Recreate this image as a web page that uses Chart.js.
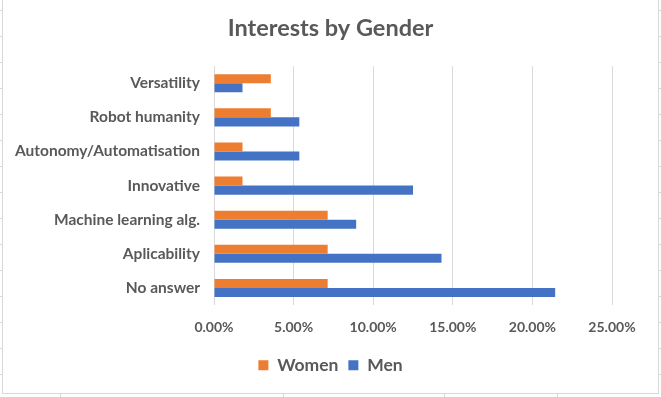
<!DOCTYPE html>
<html>
<head>
<meta charset="utf-8">
<script src="https://cdn.jsdelivr.net/npm/chart.js@4.4.1/dist/chart.umd.min.js"></script>
<style>
  html, body { margin: 0; padding: 0; background: #fff; }
  #wrap { position: relative; width: 661px; height: 397px; }
  #frame { position: absolute; left: 2px; top: -1px; width: 655px; height: 393px; border: 1px solid #d9d9d9; }
  .sheet-left { position: absolute; left: 0; top: 0; width: 2px; height: 397px;
    background: repeating-linear-gradient(to bottom, transparent 0 10px, #d9d9d9 10px 11px, transparent 11px 26px); }
  .sheet-right { position: absolute; left: 658px; top: 0; width: 3px; height: 397px;
    background: repeating-linear-gradient(to bottom, transparent 0 10px, #d9d9d9 10px 11px, transparent 11px 26px); }
  .sheet-col { position: absolute; top: 394px; width: 1px; height: 3px; background: #d9d9d9; }
  canvas { position: absolute; left: 0; top: 0; }
</style>
</head>
<body>
<div id="wrap">
  <div class="sheet-left"></div>
  <div class="sheet-right"></div>
  <div class="sheet-col" style="left:60px"></div>
  <div class="sheet-col" style="left:283px"></div>
  <div class="sheet-col" style="left:444px"></div>
  <div class="sheet-col" style="left:557px"></div>
  <div id="frame"></div>
  <canvas id="interests" width="661" height="397"></canvas>
</div>
<script>
Chart.defaults.color = '#595959';
Chart.defaults.font.family = 'Lato, "Open Sans", sans-serif';
Chart.defaults.font.weight = 'bold';

const womenColor = '#ED7D31';
const menColor = '#4472C4';
const gridColor = '#D9D9D9';

const interestLabels = ['Versatility', 'Robot humanity', 'Autonomy/Automatisation', 'Innovative', 'Machine learning alg.', 'Aplicability', 'No answer'];
const womenData = [3.57, 3.57, 1.79, 1.79, 7.14, 7.14, 7.14];
const menData = [1.79, 5.36, 5.36, 12.5, 8.93, 14.29, 21.43];

const axisMin = 0;
const axisMax = 25;
const axisStep = 5;

new Chart(document.getElementById('interests'), {
  type: 'bar',
  data: {
    labels: interestLabels,
    datasets: [{
      label: 'Women',
      data: womenData,
      backgroundColor: womenColor,
      categoryPercentage: 0.53,
      barPercentage: 1,
    }, {
      label: 'Men',
      data: menData,
      backgroundColor: menColor,
      categoryPercentage: 0.53,
      barPercentage: 1,
    }]
  },
  options: {
    indexAxis: 'y',
    responsive: false,
    animation: false,
    layout: {
      padding: { left: 0, right: 0, top: 0, bottom: 13 }
    },
    plugins: {
      title: {
        display: true,
        text: 'Interests by Gender',
        font: { size: 23.5, weight: 'bold' },
        padding: { top: 14, bottom: 24 },
      },
      legend: {
        position: 'bottom',
        labels: {
          boxWidth: 10,
          boxHeight: 10,
          padding: 10,
          font: { size: 17.5, weight: 'bold' },
        }
      },
      tooltip: { enabled: false }
    },
    scales: {
      x: {
        min: axisMin,
        max: axisMax,
        ticks: {
          stepSize: axisStep,
          padding: 14,
          font: { size: 14, weight: 'bold' },
          callback: (v) => Number(v).toFixed(2) + '%',
        },
        grid: { color: gridColor, drawTicks: false },
        border: { display: false },
        afterFit: (scale) => { scale.height = 41.5; }
      },
      y: {
        ticks: {
          padding: 14,
          font: { size: 15.5, weight: 'bold' },
        },
        grid: { display: false, drawTicks: false },
        border: { display: false },
        afterFit: (scale) => { scale.width = 214; }
      },
      // empty right-hand margin so the title and legend centre on the whole chart
      yRight: {
        type: 'category',
        position: 'right',
        ticks: { display: false },
        grid: { display: false, drawTicks: false },
        border: { display: false },
        afterFit: (scale) => { scale.width = 49; }
      }
    }
  }
});
</script>
</body>
</html>
